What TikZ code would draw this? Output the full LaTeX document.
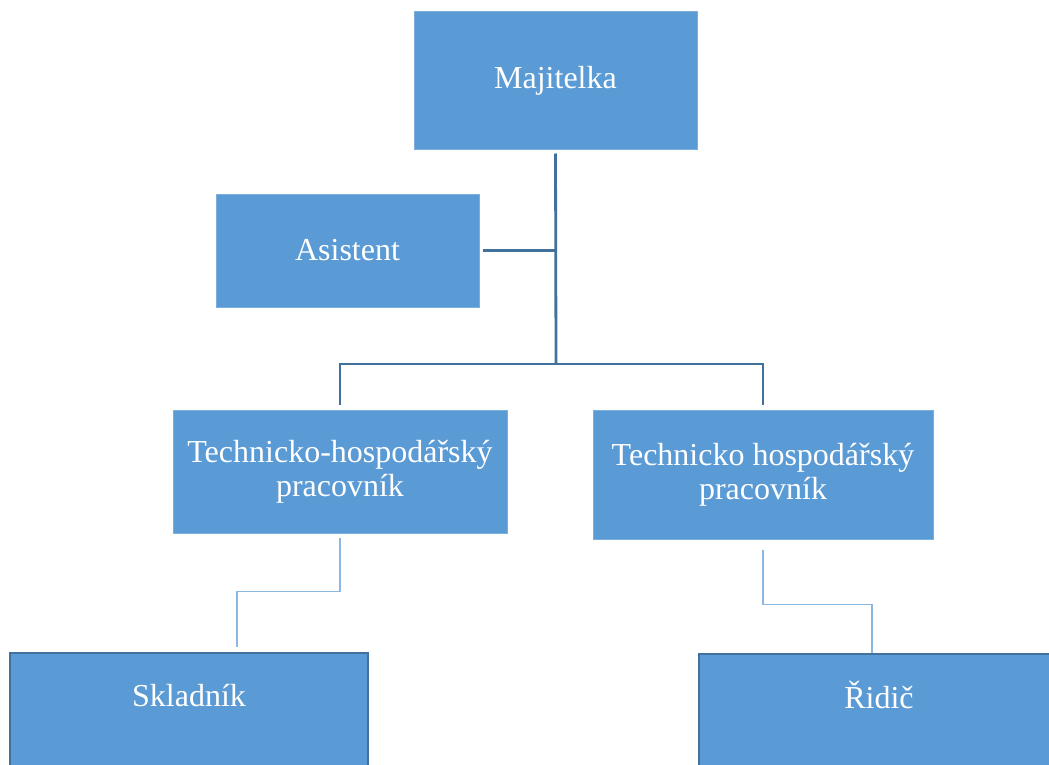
\documentclass[tikz,border=0pt]{standalone}
\usepackage{fontspec}
\setmainfont{Liberation Serif}
\usepackage{tikz}
\usetikzlibrary{arrows}
\definecolor{boxfill}{HTML}{5B9BD5}
\definecolor{boxedge}{HTML}{41719C}
\definecolor{subline}{HTML}{8DB7E3}

\begin{document}
\begin{tikzpicture}[x=0.5pt, y=-0.5pt, every node/.style={rectangle, fill=boxfill, draw=boxfill!80!white, line width=0.5pt, text=white, font=\fontsize{16}{17}\selectfont, align=center, inner sep=0pt}]
        \useasboundingbox (0,0) rectangle (1049,765);
        \clip (0,0) rectangle (1049,765);
        \tikzset{conn/.style={draw=boxedge, line width=1.4pt}}
        \tikzset{sublink/.style={draw=subline, line width=0.8pt}}
        \tikzset{lowbox/.style={draw=boxedge, line width=1pt, anchor=north, text height=26.75pt, text depth=47.25pt}}
        % top level
        \node[minimum width=141.5pt, minimum height=68.5pt] (maj) at (555.5,80.5) {Majitelka};
        \node[minimum width=131.5pt, minimum height=56.5pt] (asist) at (347.5,250.5) {Asistent};
        % middle level
        \node[minimum width=167pt, minimum height=61.5pt] (tl) at (340,471.5) {Technicko-hospodářský\\pracovník};
        \node[minimum width=170pt, minimum height=64.5pt] (tr) at (763,474.5) {Technicko hospodářský\\pracovník};
        % bottom level
        \node[lowbox, minimum width=179pt] (sk) at (189,652) {Skladník};
        \node[lowbox, draw=none, minimum width=179pt] (rd) at (879,654) {Řidič};
        \draw[boxedge, line width=1pt] (rd.south west) -- (rd.north west) -- (rd.north east);
        \coordinate (j) at (556,364);
        \draw[conn, shorten <=2pt] (maj.south) -- (j);
        \draw[conn, shorten <=1.5pt] (asist.east) -- (asist.east -| j);
        \draw[conn, shorten <=2.5pt, shorten >=2.5pt] (tl.north) |- (j -| tr.north) -- (tr.north);
        \draw[sublink, shorten <=2pt, shorten >=2.5pt] (tl.south) -- ++(0,58) -| ([xshift=24pt]sk.north);
        \draw[sublink, shorten <=5pt, shorten >=0.5pt] (tr.south) -- ++(0,65) -| ([xshift=-3.5pt]rd.north);
\end{tikzpicture}
\end{document}
